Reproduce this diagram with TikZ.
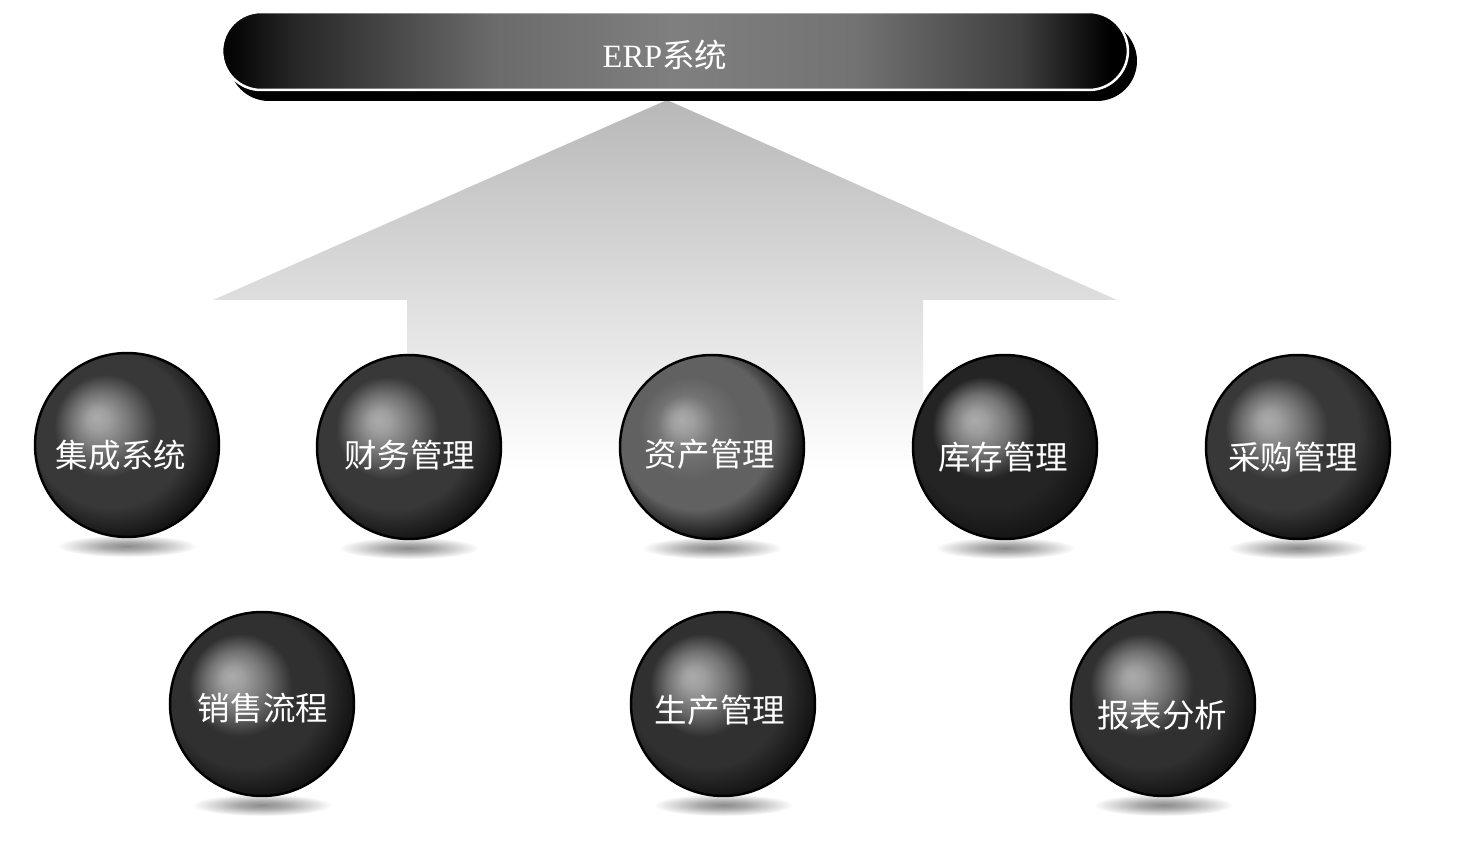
\documentclass[tikz,border=0pt]{standalone}
\usepackage{fontspec}
\setmainfont{Liberation Serif}
\newfontfamily\cjk{Noto Sans CJK SC}
\usetikzlibrary{shapes.geometric}
\newcommand\mksphere[2]{%
  \pgfdeclareradialshading{#1}{\pgfpoint{-8.5bp}{7.5bp}}{%
    color(0bp)=(black!33); color(3bp)=(black!38); color(8bp)=(black!55); color(14bp)=(black!#2);
    color(21bp)=(black!#2); color(28bp)=(black!92); color(31.5bp)=(black); color(45bp)=(black)}}
\mksphere{sphA}{78}
\mksphere{sphB}{62}
\mksphere{sphC}{86}
\mksphere{sphD}{81}
\pgfdeclareradialshading{shad}{\pgfpoint{0bp}{0bp}}{%
  color(0bp)=(black!45); color(9bp)=(black!33); color(25bp)=(white); color(50bp)=(white)}
\pgfdeclarehorizontalshading{barsh}{100bp}{%
  color(0bp)=(black); color(25bp)=(black); color(29bp)=(black!85); color(40bp)=(black!58);
  color(50bp)=(black!50); color(60bp)=(black!55); color(69bp)=(black!75); color(74bp)=(black); color(100bp)=(black)}
\tikzset{
  ball/.style={circle, minimum size=3.68cm, inner sep=0pt, draw=black, line width=1.4pt, shade},
  lbl/.style={text=white, font=\cjk\fontsize{18.5}{20}\selectfont, inner sep=0pt},
  shadowell/.style={shade, shading=shad},
}
\begin{document}
\begin{tikzpicture}[x=0.02cm,y=-0.02cm]
\fill[white] (0,0) rectangle (1458,844);
\useasboundingbox (0,0) rectangle (1458,844);
% big arrow
\shade[top color=black!28, middle color=black!15, bottom color=white]
  (667,100) -- (1117,300) -- (923,300) -- (923,470) -- (407,470) -- (407,300) -- (213,300) -- cycle;
% top bar
\fill[black, rounded corners=0.8cm] (229,21) rectangle (1137,101);
\node[draw=white, line width=0.05cm, rounded corners=0.78cm, minimum width=18.12cm,
      minimum height=1.56cm, shade, shading=barsh, inner sep=0pt] (bar) at (675,51) {};
\node[text=white, font=\fontsize{18.5}{20}\selectfont, inner sep=0pt] (erp) at (665,55) {ERP{\cjk 系统}};
% spheres
\foreach \n/\x/\y/\s/\tx/\ty/\t in {
  1/127/445/sphA/121/455/集成系统,
  2/409/447/sphA/410/455/财务管理,
  3/712/447/sphB/710/454/资产管理,
  4/1005/447/sphC/1003/457/库存管理,
  5/1298/447/sphA/1293/457/采购管理,
  6/262/704/sphD/263/708/销售流程,
  7/723/704/sphD/720/710/生产管理,
  8/1163/704/sphD/1162/715/报表分析}{
  \shade[shadowell] (\x,\y+101) ellipse [x radius=1.4cm, y radius=0.22cm];
  \node[ball, shading=\s] (s\n) at (\x,\y) {};
  \node[lbl] (t\n) at (\tx,\ty) {\t};
}
\end{tikzpicture}
\end{document}
